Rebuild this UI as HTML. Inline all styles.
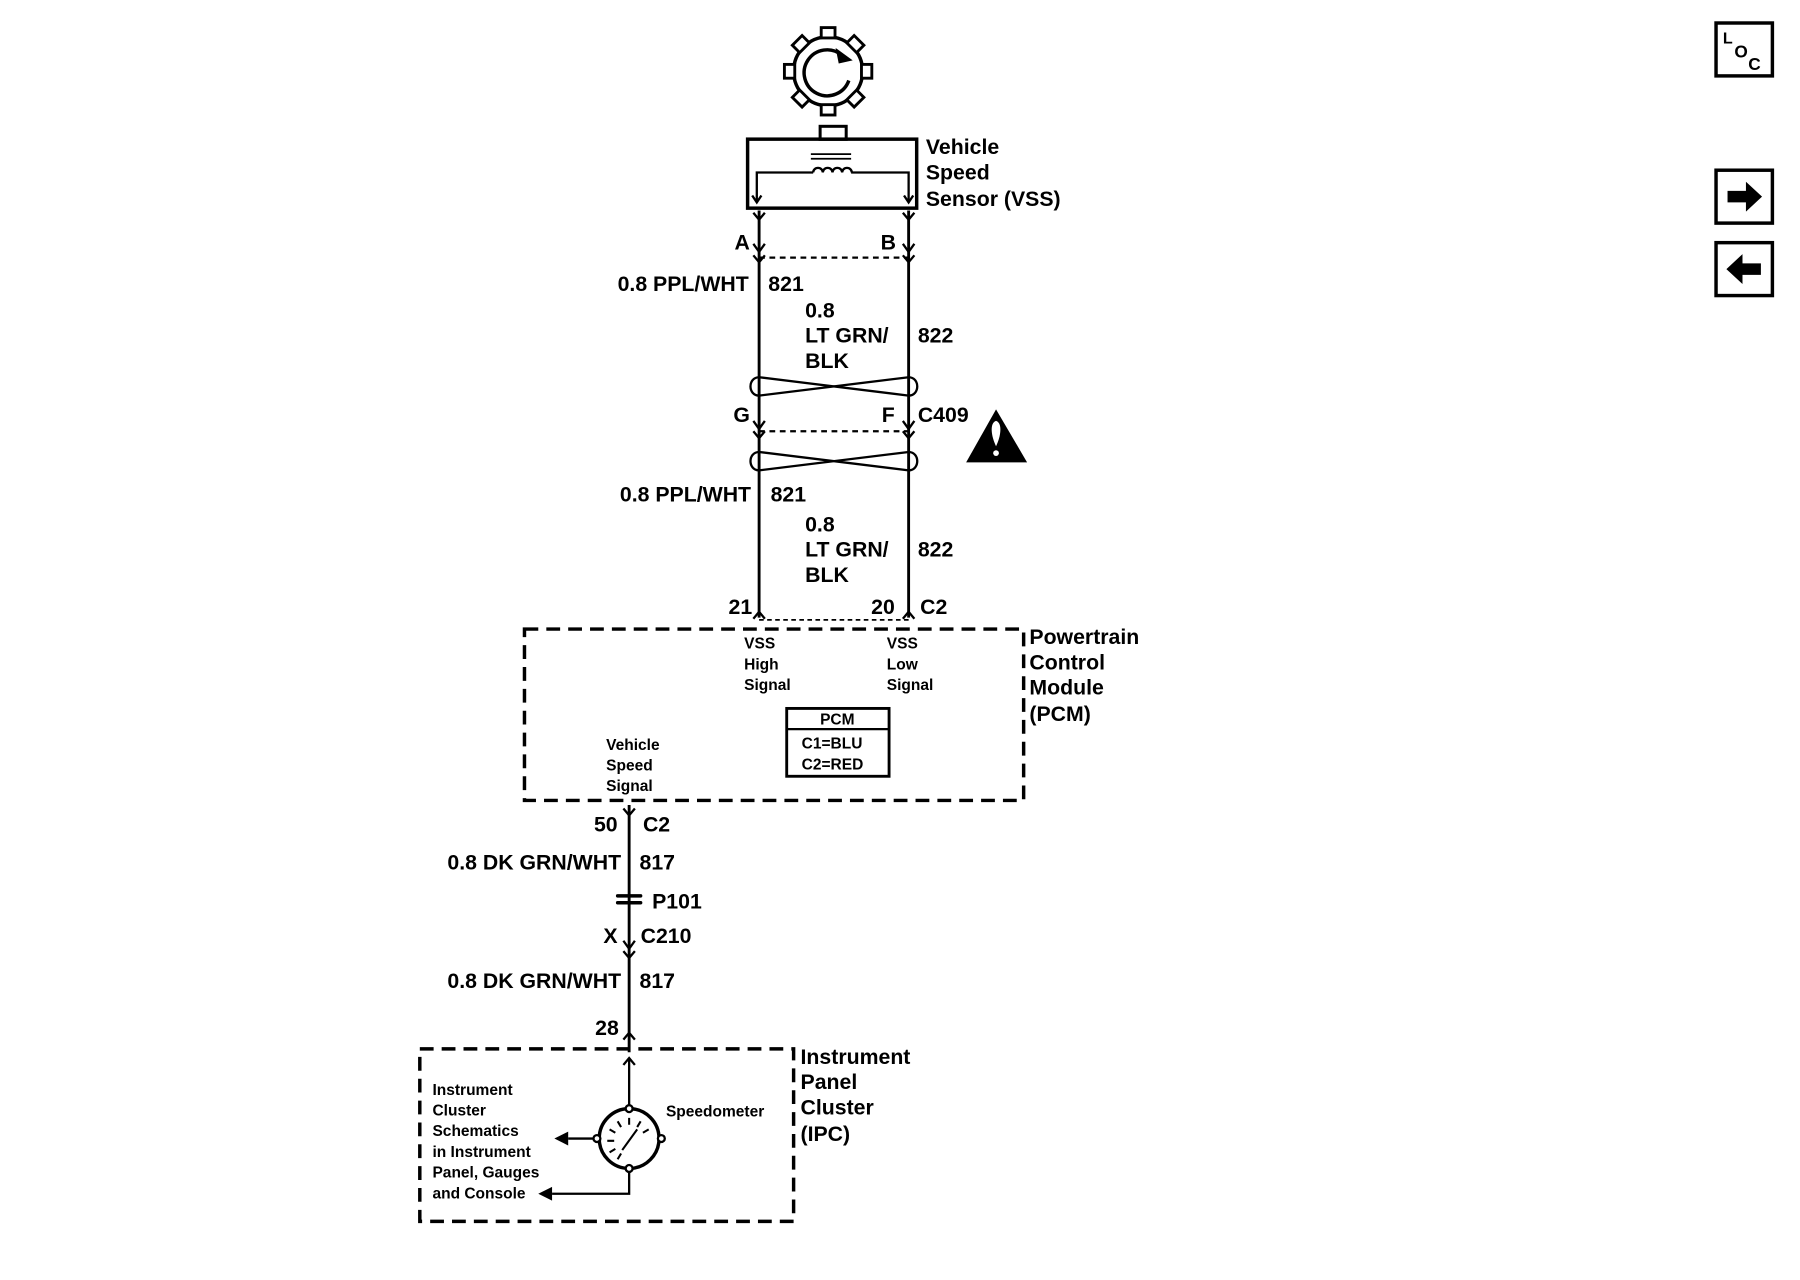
<!DOCTYPE html>
<html><head><meta charset="utf-8"><style>
html,body{margin:0;padding:0;background:#fff;width:1800px;height:1280px;overflow:hidden}
svg{display:block}
text{font-family:"Liberation Sans",sans-serif;fill:#000;font-weight:bold}
.b{font-size:18.5px}
.s{font-size:13.5px}
</style></head><body>
<svg width="1800" height="1280" viewBox="0 0 1565 1113" preserveAspectRatio="none" xmlns="http://www.w3.org/2000/svg">
<g fill="none" stroke="#000" stroke-width="2">
<!-- gear -->
<g transform="translate(720,62)">
<circle r="30" stroke-width="3"/>
<g fill="#fff" stroke-width="2.5">
<rect x="-6" y="-38" width="12" height="9" />
<rect x="-6" y="29" width="12" height="9" />
<rect x="29" y="-6" width="9" height="12" />
<rect x="-38" y="-6" width="9" height="12" />
<rect x="-6" y="-38" width="12" height="9" transform="rotate(45)"/>
<rect x="-6" y="-38" width="12" height="9" transform="rotate(135)"/>
<rect x="-6" y="-38" width="12" height="9" transform="rotate(225)"/>
<rect x="-6" y="-38" width="12" height="9" transform="rotate(315)"/>
</g>
<path d="M12,-14 A20,20 0 1 0 18,8" stroke-width="3"/>
<path d="M8,-18 L19,-10 L10,-8 Z" fill="#000"/>
</g>
<!-- sensor -->
<rect x="818" y="126" width="26" height="13" transform="scale(0.8717,0.8717)" stroke-width="3"/>
<rect x="650" y="121" width="147" height="60" stroke-width="3"/>
<path d="M705,134 H740 M705,138 H740" stroke-width="1.5"/>
<path d="M658,175 V150 H707 M740,150 H790 V175"/>
<path d="M707,150 a4.2,4 0 0 1 8.4,0 a4.2,4 0 0 1 8.4,0 a4.2,4 0 0 1 8.4,0 a4.2,4 0 0 1 8.4,0" />
<path d="M654,170 L658,176 L662,170 M786,170 L790,176 L794,170"/>
<!-- wires -->
<path d="M660,183 V537 M790,183 V537" stroke-width="2.5"/>
<path d="M655,185 L660,191 L665,185 M785,185 L790,191 L795,185"/>
<path d="M655,212 L660,219 L665,212 M785,212 L790,219 L795,212"/>
<path d="M655,222 L660,228 L665,222 M785,222 L790,228 L795,222"/>
<path d="M660,224 H790" stroke-dasharray="5,4"/>
<!-- twist 1 -->
<path d="M660,328 C650,328 650,344 660,344 L790,328 C800,328 800,344 790,344 L660,328"/>
<!-- C409 -->
<path d="M655,366 L660,373 L665,366 M785,366 L790,373 L795,366"/>
<path d="M655,375 L660,381 L665,375 M785,375 L790,381 L795,375"/>
<path d="M660,375 H790" stroke-dasharray="5,4"/>
<!-- twist 2 -->
<path d="M660,393 C650,393 650,409 660,409 L790,393 C800,393 800,409 790,409 L660,393"/>
<!-- C2 top -->
<path d="M655,538 L660,532 L665,538 M785,538 L790,532 L795,538"/>
<path d="M660,539 H790" stroke-dasharray="4,3" stroke-width="1.5"/>
<!-- PCM box -->
<rect x="456" y="547" width="434" height="149" stroke-width="3" stroke-dasharray="12,7"/>
<rect x="684" y="616" width="89" height="59" stroke-width="2.5"/>
<path d="M684,634 H773"/>
<!-- lower wire -->
<path d="M547,700 V915" stroke-width="2.5"/>
<path d="M542,703 L547,709 L552,703"/>
<path d="M537,779 H557 M537,785 H557" stroke-width="3" stroke-linecap="round"/>
<path d="M542,818 L547,825 L552,818 M542,827 L547,833 L552,827"/>
<path d="M542,904 L547,898 L552,904"/>
<!-- IPC -->
<rect x="365" y="912" width="325" height="150" stroke-width="3" stroke-dasharray="12,7"/>
<path d="M547,965 V920 M542,926 L547,920 L552,926"/>
<circle cx="547" cy="990" r="26" stroke-width="3"/>
<g stroke-width="1.8">
<path d="M547,972 V978 M537,975 L540,980 M557,975 L554,980 M530,982 L535,985 M564,982 L559,985 M528,992 L534,992 M530,1002 L535,999 M537,1008 L540,1003 M541,1000 L554,982"/>
</g>
<circle cx="547" cy="964" r="3" fill="#fff"/>
<circle cx="547" cy="1016" r="3" fill="#fff"/>
<circle cx="519" cy="990" r="3" fill="#fff"/>
<circle cx="575" cy="990" r="3" fill="#fff"/>
<path d="M516,990 H494 M547,1019 V1038 H480"/>
<!-- icons -->
<rect x="1492" y="20" width="49" height="46" stroke-width="3"/>
<rect x="1492" y="148" width="49" height="46" stroke-width="3"/>
<rect x="1492" y="211" width="49" height="46" stroke-width="3"/>
</g>
<g fill="#000">
<path d="M494,984 L482,990 L494,996 Z"/>
<path d="M480,1032 L468,1038 L480,1044 Z"/>
<path d="M866,356 L840,402 L893,402 Z"/>
<path d="M1502,166 H1518 V158 L1532,171 L1518,184 V176 H1502 Z"/>
<path d="M1531,229 H1515 V221 L1501,234 L1515,247 V239 H1531 Z"/>
</g>
<path d="M866,366 C860,368 862,380 866,388 C870,380 872,368 866,366 Z" fill="#fff"/>
<circle cx="866" cy="394" r="2.5" fill="#fff"/>
<text x="1498" y="38" font-size="14">L</text>
<text x="1508" y="50" font-size="15">O</text>
<text x="1520" y="61" font-size="15">C</text>

<text class="b" x="805" y="134">Vehicle</text>
<text class="b" x="805" y="156">Speed</text>
<text class="b" x="805" y="179">Sensor (VSS)</text>
<text class="b" x="652" y="217" text-anchor="end">A</text>
<text class="b" x="779" y="217" text-anchor="end">B</text>
<text class="b" x="651" y="253" text-anchor="end">0.8 PPL/WHT</text>
<text class="b" x="668" y="253">821</text>
<text class="b" x="700" y="276">0.8</text>
<text class="b" x="700" y="298">LT GRN/</text>
<text class="b" x="700" y="320">BLK</text>
<text class="b" x="798" y="298">822</text>
<text class="b" x="652" y="367" text-anchor="end">G</text>
<text class="b" x="778" y="367" text-anchor="end">F</text>
<text class="b" x="798" y="367">C409</text>
<text class="b" x="653" y="436" text-anchor="end">0.8 PPL/WHT</text>
<text class="b" x="670" y="436">821</text>
<text class="b" x="700" y="462">0.8</text>
<text class="b" x="700" y="484">LT GRN/</text>
<text class="b" x="700" y="506">BLK</text>
<text class="b" x="798" y="484">822</text>
<text class="b" x="654" y="534" text-anchor="end">21</text>
<text class="b" x="778" y="534" text-anchor="end">20</text>
<text class="b" x="800" y="534">C2</text>
<text class="b" x="895" y="560">Powertrain</text>
<text class="b" x="895" y="582">Control</text>
<text class="b" x="895" y="604">Module</text>
<text class="b" x="895" y="627">(PCM)</text>
<text class="s" x="647" y="564">VSS</text>
<text class="s" x="647" y="582">High</text>
<text class="s" x="647" y="600">Signal</text>
<text class="s" x="771" y="564">VSS</text>
<text class="s" x="771" y="582">Low</text>
<text class="s" x="771" y="600">Signal</text>
<text class="s" x="728" y="630" text-anchor="middle">PCM</text>
<text class="s" x="697" y="651">C1=BLU</text>
<text class="s" x="697" y="669">C2=RED</text>
<text class="s" x="527" y="652">Vehicle</text>
<text class="s" x="527" y="670">Speed</text>
<text class="s" x="527" y="688">Signal</text>
<text class="b" x="537" y="723" text-anchor="end">50</text>
<text class="b" x="559" y="723">C2</text>
<text class="b" x="540" y="756" text-anchor="end">0.8 DK GRN/WHT</text>
<text class="b" x="556" y="756">817</text>
<text class="b" x="567" y="790">P101</text>
<text class="b" x="537" y="820" text-anchor="end">X</text>
<text class="b" x="557" y="820">C210</text>
<text class="b" x="540" y="859" text-anchor="end">0.8 DK GRN/WHT</text>
<text class="b" x="556" y="859">817</text>
<text class="b" x="538" y="900" text-anchor="end">28</text>
<text class="b" x="696" y="925">Instrument</text>
<text class="b" x="696" y="947">Panel</text>
<text class="b" x="696" y="969">Cluster</text>
<text class="b" x="696" y="992">(IPC)</text>
<text class="s" x="579" y="971">Speedometer</text>
<text class="s" x="376" y="952">Instrument</text>
<text class="s" x="376" y="970">Cluster</text>
<text class="s" x="376" y="988">Schematics</text>
<text class="s" x="376" y="1006">in Instrument</text>
<text class="s" x="376" y="1024">Panel, Gauges</text>
<text class="s" x="376" y="1042">and Console</text>
</svg>
</body></html>
